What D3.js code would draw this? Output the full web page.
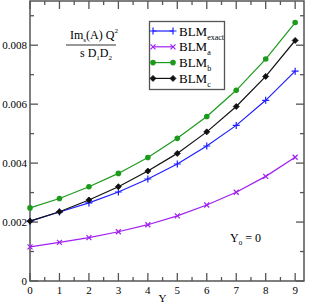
<!DOCTYPE html>
<html>
<head>
<meta charset="utf-8">
<script src="https://cdn.jsdelivr.net/npm/d3@7"></script>
<style>
  body { margin: 0; background: #fff; }
  text { font-family: "Liberation Serif", "DejaVu Serif", serif; }
</style>
</head>
<body>
<div id="chart"></div>
<script>
//data
const yValues = [0, 1, 2, 3, 4, 5, 6, 7, 8, 9];
const blmExact = [0.00203, 0.00234, 0.00265, 0.00302, 0.00346, 0.00397, 0.00458, 0.00528, 0.00613, 0.00712];
const blmA = [0.00116, 0.00131, 0.00147, 0.00167, 0.00191, 0.00221, 0.00258, 0.00301, 0.00355, 0.00420];
const blmB = [0.00248, 0.00280, 0.00320, 0.00365, 0.00419, 0.00484, 0.00558, 0.00647, 0.00753, 0.00877];
const blmC = [0.00203, 0.00235, 0.00275, 0.00320, 0.00373, 0.00433, 0.00506, 0.00592, 0.00694, 0.00816];
const xTicks = [0, 1, 2, 3, 4, 5, 6, 7, 8, 9];
const yTicks = [0, 0.002, 0.004, 0.006, 0.008];

const width = 311, height = 306;
const margin = {top: 1, right: 7, bottom: 25, left: 30};

const svg = d3.select('#chart')
    .append('svg')
    .attr('width', width)
    .attr('height', height);

//scales
const x = d3.scaleLinear().domain([0, 9.3]).range([margin.left, width - margin.right]);
const y = d3.scaleLinear().domain([0, 0.0095]).range([height - margin.bottom, margin.top]);

const frameColor = '#555';

//minor + major ticks on all four sides, pointing inward
const xMinor = d3.range(0, 9.01, 0.5);
const yMinor = d3.range(0, 0.0095, 0.001);
const ticks = svg.append('g').attr('stroke', frameColor).attr('stroke-width', 1.3);
xMinor.forEach(function(v) {
    let len = Number.isInteger(v) ? 8 : 4;
    ticks.append('line').attr('x1', x(v)).attr('x2', x(v))
        .attr('y1', y.range()[0]).attr('y2', y.range()[0] - len);
    ticks.append('line').attr('x1', x(v)).attr('x2', x(v))
        .attr('y1', y.range()[1]).attr('y2', y.range()[1] + len);
});
yMinor.forEach(function(v) {
    let len = (Math.round(v * 1000) % 2 === 0) ? 8 : 4;
    ticks.append('line').attr('y1', y(v)).attr('y2', y(v))
        .attr('x1', x.range()[0]).attr('x2', x.range()[0] + len);
    ticks.append('line').attr('y1', y(v)).attr('y2', y(v))
        .attr('x1', x.range()[1]).attr('x2', x.range()[1] - len);
});

//frame
svg.append('rect')
    .attr('x', x.range()[0]).attr('y', y.range()[1])
    .attr('width', x.range()[1] - x.range()[0])
    .attr('height', y.range()[0] - y.range()[1])
    .attr('fill', 'none')
    .attr('stroke', frameColor)
    .attr('stroke-width', 1.5);

//tick labels
svg.append('g').selectAll('text')
    .data(xTicks).enter().append('text')
    .attr('x', function(d) { return x(d); })
    .attr('y', y(0) + 13)
    .attr('text-anchor', 'middle')
    .style('font-size', '11px')
    .text(function(d) { return d; });

svg.append('g').selectAll('text')
    .data(yTicks).enter().append('text')
    .attr('x', x(0) - 3)
    .attr('y', function(d) { return y(d) + 4; })
    .attr('text-anchor', 'end')
    .style('font-size', '11px')
    .text(function(d) { return d === 0 ? '0' : d3.format('.3f')(d); });

//axis title
svg.append('text')
    .attr('x', x(4.5))
    .attr('y', 302)
    .attr('text-anchor', 'middle')
    .style('font-size', '11px')
    .text('Y');

//series
const series = [
    {name: 'exact', values: blmExact, color: '#1f1fff', marker: 'plus'},
    {name: 'a', values: blmA, color: '#a020f0', marker: 'cross'},
    {name: 'b', values: blmB, color: '#1c9a1c', marker: 'circle'},
    {name: 'c', values: blmC, color: '#111', marker: 'diamond'}
];

function drawMarker(g, type, cx, cy, color) {
    if (type === 'plus') {
        g.append('path').attr('d', `M${cx - 3.5},${cy}H${cx + 3.5}M${cx},${cy - 3.5}V${cy + 3.5}`)
            .attr('stroke', color).attr('stroke-width', 1.2);
    } else if (type === 'cross') {
        g.append('path').attr('d', `M${cx - 2.5},${cy - 2.5}L${cx + 2.5},${cy + 2.5}M${cx - 2.5},${cy + 2.5}L${cx + 2.5},${cy - 2.5}`)
            .attr('stroke', color).attr('stroke-width', 1.2);
    } else if (type === 'circle') {
        g.append('circle').attr('cx', cx).attr('cy', cy).attr('r', 2.8).attr('fill', color);
    } else {
        g.append('path').attr('d', `M${cx},${cy - 3}L${cx + 3},${cy}L${cx},${cy + 3}L${cx - 3},${cy}Z`)
            .attr('fill', color).attr('stroke', color).attr('stroke-width', 0.8);
    }
}

const line = d3.line()
    .x(function(d, i) { return x(yValues[i]); })
    .y(function(d) { return y(d); });

series.forEach(function(s) {
    let g = svg.append('g');
    g.append('path')
        .datum(s.values)
        .attr('d', line)
        .attr('fill', 'none')
        .attr('stroke', s.color)
        .attr('stroke-width', 1.2);
    s.values.forEach(function(v, i) {
        drawMarker(g, s.marker, x(yValues[i]), y(v), s.color);
    });
});

//legend
const legend = svg.append('g');
legend.append('rect')
    .attr('x', 149.5).attr('y', 21.5)
    .attr('width', 75).attr('height', 68)
    .attr('fill', '#fff')
    .attr('stroke', frameColor)
    .attr('stroke-width', 1.3);
series.forEach(function(s, i) {
    let ly = 31 + i * 15.8;
    legend.append('line')
        .attr('x1', 153).attr('x2', 173).attr('y1', ly).attr('y2', ly)
        .attr('stroke', s.color).attr('stroke-width', 1.2);
    drawMarker(legend, s.marker, 153, ly, s.color);
    drawMarker(legend, s.marker, 173, ly, s.color);
    let t = legend.append('text')
        .attr('x', 179).attr('y', ly + 4.5)
        .style('font-size', '13px');
    t.append('tspan').text('BLM');
    t.append('tspan').attr('dy', 4).style('font-size', '8px').text(s.name);
});

//formula label
const formula = svg.append('g');
let num = formula.append('text')
    .attr('x', 70).attr('y', 39)
    .style('font-size', '12px');
num.append('tspan').text('Im');
num.append('tspan').attr('dy', 3).style('font-size', '7px').text('s');
num.append('tspan').attr('dy', -3).text('(A) Q');
num.append('tspan').attr('dy', -6).style('font-size', '7px').text('2');
formula.append('line')
    .attr('x1', 66).attr('x2', 116).attr('y1', 45).attr('y2', 45)
    .attr('stroke', '#333').attr('stroke-width', 1);
let den = formula.append('text')
    .attr('x', 80).attr('y', 57)
    .style('font-size', '12px');
den.append('tspan').text('s D');
den.append('tspan').attr('dy', 3).style('font-size', '7px').text('1');
den.append('tspan').attr('dy', -3).text('D');
den.append('tspan').attr('dy', 3).style('font-size', '7px').text('2');

//Y0 label
let y0 = svg.append('text')
    .attr('x', 230).attr('y', 242)
    .style('font-size', '12px');
y0.append('tspan').text('Y');
y0.append('tspan').attr('dy', 3).style('font-size', '7px').text('0');
y0.append('tspan').attr('dy', -3).text(' = 0');
</script>
</body>
</html>
